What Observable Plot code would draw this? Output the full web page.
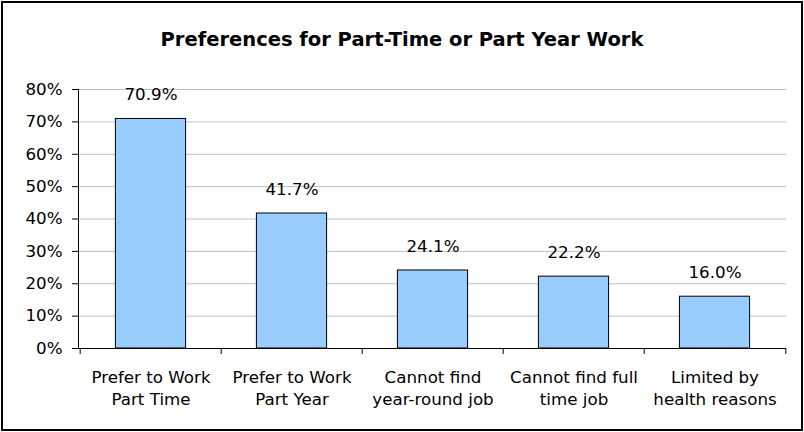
<!DOCTYPE html>
<html>
<head>
<meta charset="utf-8">
<script src="https://cdn.jsdelivr.net/npm/d3@7"></script>
<script src="https://cdn.jsdelivr.net/npm/@observablehq/plot@0.6"></script>
<style>
  html, body { margin: 0; padding: 0; background: #fff; }
  #wrap { position: relative; width: 804px; height: 432px; font-family: "DejaVu Sans", sans-serif; }
  #border { position: absolute; left: 1px; top: 1px; width: 798px; height: 426px; border: 2px solid #000; box-sizing: content-box; pointer-events: none; }
  #title { position: absolute; left: 0; top: 27px; width: 804px; text-align: center; font-weight: bold; font-size: 19.5px; color: #000; line-height: 26px; }
  #chart svg { display: block; }
</style>
</head>
<body>
<div id="wrap">
  <div id="chart"></div>
  <div id="title">Preferences for Part-Time or Part Year Work</div>
  <div id="border"></div>
</div>
<script>
const categories = [
  "Prefer to Work\nPart Time",
  "Prefer to Work\nPart Year",
  "Cannot find\nyear-round job",
  "Cannot find full\ntime job",
  "Limited by\nhealth reasons"
];
const values = [0.709, 0.417, 0.241, 0.222, 0.160];
const valueLabels = ["70.9%", "41.7%", "24.1%", "22.2%", "16.0%"];
const yTicks = [0, 0.1, 0.2, 0.3, 0.4, 0.5, 0.6, 0.7, 0.8];

const data = categories.map((c, i) => ({category: c, value: values[i], label: valueLabels[i]}));

const W = 804, H = 432;
const mL = 78, mR = 18, mT = 89, mB = 84;
const bw = (W - mL - mR) / categories.length;
const fs = 16.7;

const chart = Plot.plot({
  width: W,
  height: H,
  marginLeft: mL,
  marginRight: mR,
  marginTop: mT,
  marginBottom: mB,
  style: {fontFamily: "DejaVu Sans, sans-serif", fontSize: fs + "px", color: "#000", background: "transparent"},
  x: {domain: categories, padding: 0, label: null},
  y: {domain: [0, 0.8], label: null},
  marks: [
    Plot.gridY(yTicks, {stroke: "#c0c0c0", strokeOpacity: 1}),
    Plot.axisY(yTicks, {tickFormat: d3.format(".0%"), tickSize: 6, tickPadding: 10, label: null, fontSize: fs, stroke: "#000"}),
    Plot.axisX({tickSize: 0, tickPadding: 19, label: null, fontSize: fs, lineHeight: 1.3}),
    Plot.barY(data, {x: "category", y: "value", fill: "#99ccff", stroke: "#000", strokeWidth: 1, insetLeft: bw / 4, insetRight: bw / 4}),
    Plot.text(data, {x: "category", y: "value", text: "label", dy: -24, fontSize: fs, fill: "#000"}),
    Plot.ruleX(categories, {x: d => d, y1: 0, dx: -bw / 2, insetBottom: -6, stroke: "#000"}),
    Plot.ruleX(categories.slice(-1), {x: d => d, y1: 0, dx: bw / 2, insetBottom: -6, stroke: "#000"}),
    Plot.frame({anchor: "left", stroke: "#000"}),
    Plot.ruleY([0], {stroke: "#000"})
  ]
});
document.getElementById("chart").appendChild(chart);
</script>
</body>
</html>
